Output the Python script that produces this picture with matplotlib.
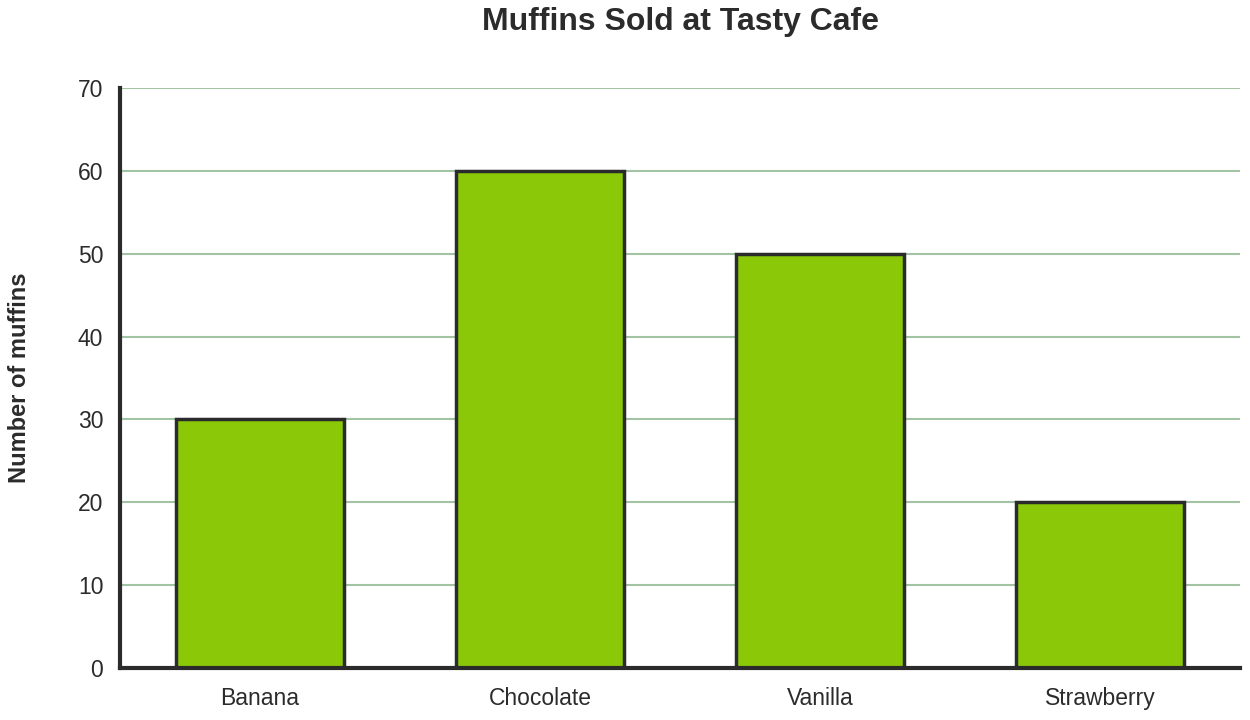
import matplotlib
matplotlib.use("Agg")
import matplotlib.pyplot as plt

categories = ["Banana", "Chocolate", "Vanilla", "Strawberry"]
values = [30, 60, 50, 20]
yticks = [0, 10, 20, 30, 40, 50, 60, 70]

plt.rcParams['font.family'] = ['Liberation Sans', 'DejaVu Sans']
dark = "#2b2b2b"

fig = plt.figure(figsize=(12.5, 7.2), dpi=100)
ax = fig.add_axes([120/1250, 52/720, 1120/1250, 580/720])

x = list(range(len(categories)))
ax.bar(x, values, width=0.6, color="#8ac808", edgecolor=dark, linewidth=2.5, zorder=3)

ax.set_xlim(-0.5, len(categories) - 0.5)
ax.set_ylim(0, 70)
ax.set_yticks(yticks)
ax.set_xticks(x)
ax.set_xticklabels(categories)
ax.yaxis.grid(True, color="#a3c4a3", linewidth=1.5, zorder=0)
ax.set_axisbelow(True)

for s in ["top", "right"]:
    ax.spines[s].set_visible(False)
for s in ["left", "bottom"]:
    ax.spines[s].set_color(dark)
    ax.spines[s].set_linewidth(3)
    ax.spines[s].set_zorder(4)

ax.tick_params(axis="both", length=0, labelsize=16.5, colors=dark)
ax.tick_params(axis="x", pad=14)
ax.tick_params(axis="y", pad=12)

fig.text(20/1250, 1 - 378/720, "Number of muffins", rotation=90, ha="center", va="center",
         fontsize=17, fontweight="bold", color=dark)
fig.text(680/1250, 1 - 22/720, "Muffins Sold at Tasty Cafe", ha="center", va="center",
         fontsize=23, fontweight="bold", color=dark)

fig.savefig("out.png", dpi=100)
